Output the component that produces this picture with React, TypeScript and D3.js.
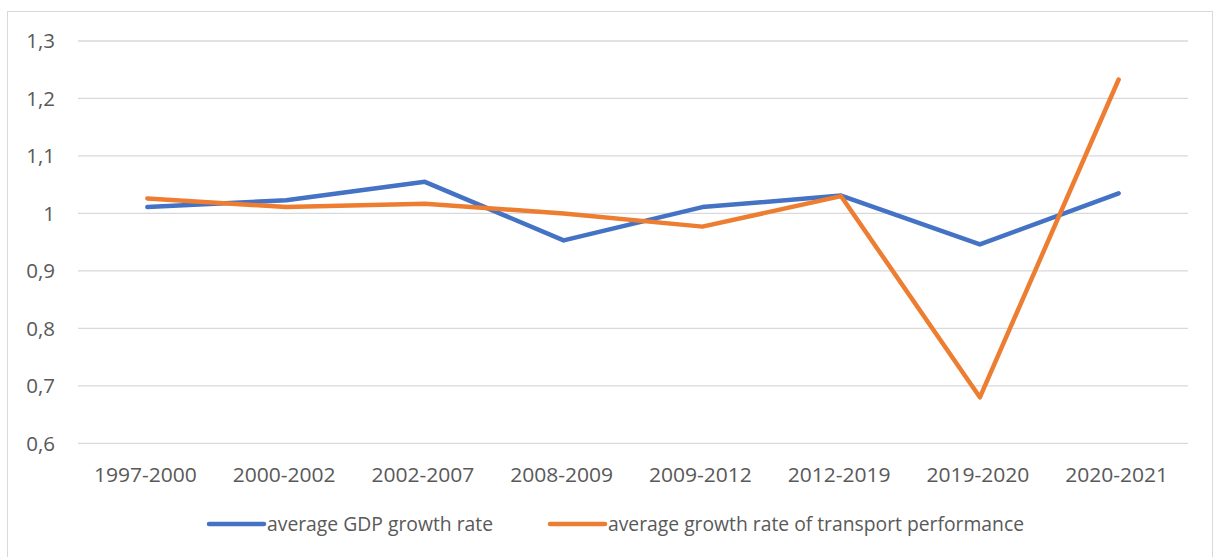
import React from "react";
import * as d3 from "d3";

const categories = ["1997-2000", "2000-2002", "2002-2007", "2008-2009", "2009-2012", "2012-2019", "2019-2020", "2020-2021"];
const gdpGrowth = [1.011, 1.023, 1.055, 0.953, 1.011, 1.031, 0.946, 1.035];
const transportGrowth = [1.026, 1.011, 1.017, 1.0, 0.977, 1.03, 0.68, 1.233];
const yTicks = [0.6, 0.7, 0.8, 0.9, 1.0, 1.1, 1.2, 1.3];
const seriesNames = ["average GDP growth rate", "average growth rate of transport performance"];
const seriesColors = ["#4472C4", "#ED7D31"];

const W = 1214;
const H = 557;
const FONT = "'Open Sans', sans-serif";

export default function App() {
  const x = d3.scaleBand<string>().domain(categories).range([78, 1188]);
  const y = d3.scaleLinear().domain([0.6, 1.3]).range([443.3, 41]);
  const line = d3
    .line<number>()
    .x((_, i) => (x(categories[i]) as number) + x.bandwidth() / 2)
    .y((d) => y(d));
  const fmt = (v: number) => (v === 1 ? "1" : d3.format(".1f")(v).replace(".", ","));
  const series = [gdpGrowth, transportGrowth];
  const legendX = [209, 550];
  return (
    <svg width={W} height={H} style={{ position: "absolute", left: 0, top: 0 }}>
      <rect x={0} y={0} width={W} height={H} fill="#fff" />
      <rect x={7.5} y={11.5} width={1205} height={560} fill="none" stroke="#d9d9d9" strokeWidth={1} />
      {yTicks.map((t) => (
        <g key={t}>
          <line x1={78} x2={1188} y1={y(t)} y2={y(t)} stroke="#d9d9d9" strokeWidth={1.3} />
          <text x={55} y={y(t)} dy="0.36em" textAnchor="end" fontFamily={FONT} fontSize={20.5} fill="#595959">
            {fmt(t)}
          </text>
        </g>
      ))}
      {categories.map((c) => (
        <text key={c} x={(x(c) as number) + x.bandwidth() / 2 - 2} y={482} textAnchor="middle" fontFamily={FONT} fontSize={20.5} fill="#595959" textLength={103} lengthAdjust="spacingAndGlyphs">
          {c}
        </text>
      ))}
      {series.map((s, i) => (
        <path key={i} d={line(s) || ""} fill="none" stroke={seriesColors[i]} strokeWidth={4.5} strokeLinejoin="round" strokeLinecap="round" />
      ))}
      {seriesNames.map((n, i) => (
        <g key={n}>
          <line x1={legendX[i]} x2={legendX[i] + 55} y1={524} y2={524} stroke={seriesColors[i]} strokeWidth={4.5} strokeLinecap="round" />
          <text x={legendX[i] + 58} y={524} dy="0.35em" fontFamily={FONT} fontSize={20.5} fill="#595959" textLength={i === 0 ? 226 : 416} lengthAdjust="spacingAndGlyphs">
            {n}
          </text>
        </g>
      ))}
    </svg>
  );
}
